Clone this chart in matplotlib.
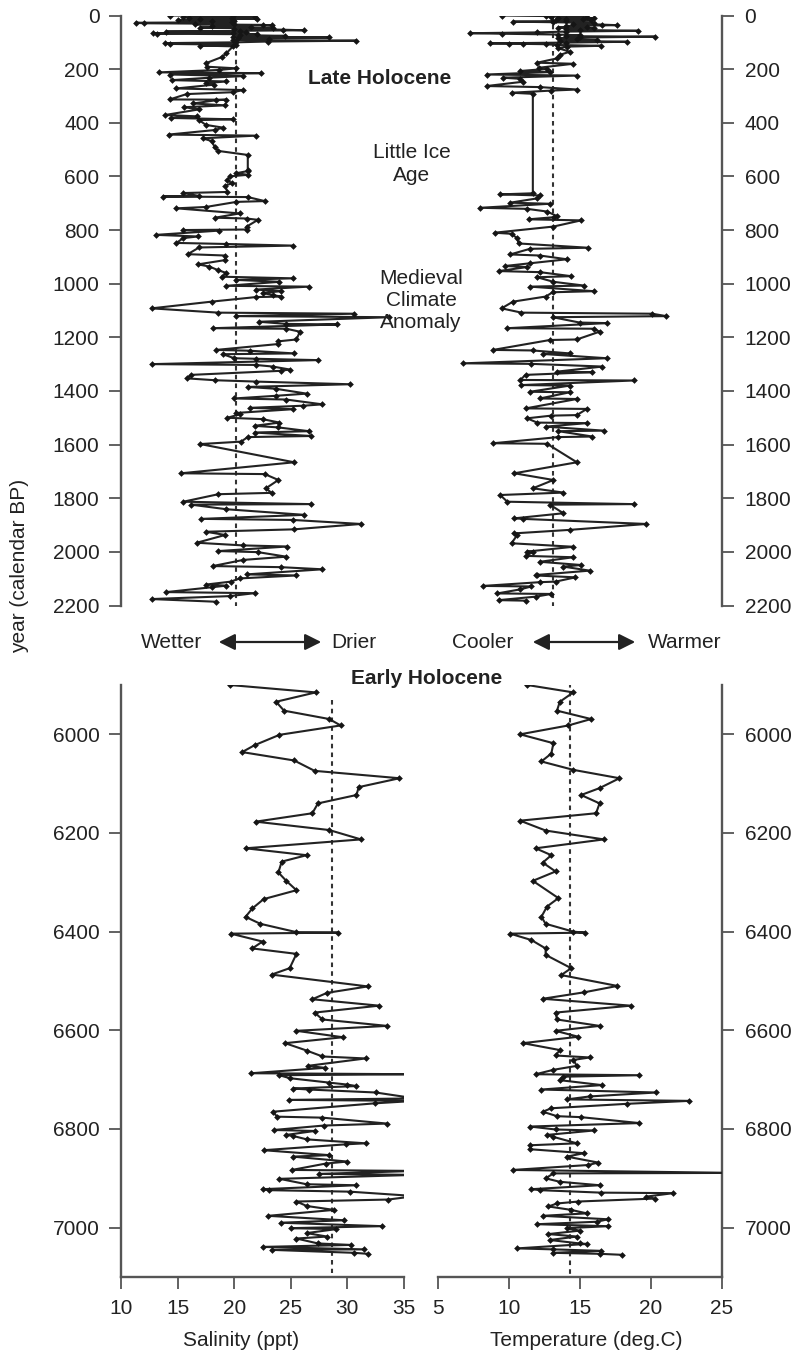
import matplotlib
matplotlib.use("Agg")
import matplotlib.pyplot as plt
from matplotlib.patches import FancyArrowPatch

plt.rcParams['font.family'] = ['Liberation Sans', 'DejaVu Sans']

# ---------------- data ----------------
late_salinity = [(0,14.3),(2,19.9),(4,21.8),(6,15.5),(8,19.8),(10,16.0),(12,22.0),(14,17.0),(16,19.9),(18,15.0),(20,20.0),(22,18.0),(25,19.8),(27,11.3),(29,12.0),(31,20.0),(33,16.5),(35,22.5),(37,23.3),(40,18.0),(42,21.5),(45,17.0),(48,23.4),(50,20.0),(53,24.3),(55,26.2),(57,20.5),(60,14.0),(62,21.0),(64,19.9),(66,12.8),(68,13.2),(70,22.0),(73,20.5),(76,24.5),(79,19.9),(82,28.4),(85,20.3),(88,23.1),(91,19.9),(94,30.8),(97,23.0),(100,20.2),(103,13.9),(106,14.3),(109,20.2),(112,17.0),(115,19.9),
    (141,19.3),(155,18.9),(178,17.5),(191,17.6),(197,20.2),(203,18.7),(212,13.4),(215,22.4),(220,14.3),(226,20.8),(232,17.8),(241,14.5),(246,19.3),(252,17.5),(258,18.2),(272,14.9),(278,20.8),(286,19.9),(293,15.8),(313,14.3),(314,19.3),(316,18.4),(328,16.4),(335,19.2),(342,15.6),(350,16.9),(371,13.9),(376,16.7),(382,14.4),(387,19.9),(390,16.9),(408,17.5),(418,19.0),(427,18.3),(444,14.2),(448,21.9),(458,17.2),(468,18.0),(492,18.3),(505,18.6),(520,21.2),(576,21.2),(580,21.2),(588,20.2),(594,21.2),(600,19.6),(615,19.4),(625,19.8),(635,19.2),(658,19.4),(662,15.5),(673,16.9),(675,13.7),(677,21.2),(692,22.7),(695,20.2),(714,17.5),(719,14.9),(738,20.5),(754,18.3),(757,21.1),(762,22.1),(787,21.1),(798,21.1),(800,15.5),(802,18.7),(818,13.1),(824,16.8),(830,15.5),(848,14.9),(852,19.3),(858,25.2),(865,16.9),(890,15.9),(895,19.2),(912,19.2),(928,16.8),(936,17.8),(950,18.6),(960,19.3),(974,18.9),(980,25.2),(986,20.2),(993,24.0),(1008,19.3),(1011,26.6),(1022,21.9),(1028,24.1),(1035,22.5),(1042,23.4),(1048,24.1),(1050,21.9),(1067,18.0),
    (1092,12.7),(1108,18.6),(1112,30.6),(1121,20.2),(1125,33.7),(1142,22.2),(1150,24.6),(1152,29.1),(1166,18.1),(1168,24.6),(1179,25.8),(1208,25.5),(1215,23.9),(1225,23.9),(1247,18.4),(1250,21.4),(1260,25.3),(1263,19.0),(1278,20.0),(1280,21.9),(1285,27.4),(1300,12.7),(1303,21.9),(1309,23.4),(1320,24.9),(1325,24.1),(1340,16.2),(1353,15.8),(1360,18.3),(1365,21.9),(1375,30.2),(1385,21.2),(1392,23.7),(1410,26.4),(1418,23.7),(1428,20.0),(1432,24.6),(1450,27.8),(1455,26.1),(1463,21.4),(1468,25.2),(1482,20.2),(1487,20.5),(1500,19.4),(1505,22.5),(1518,24.0),(1530,21.8),(1536,23.9),(1550,26.6),(1555,21.8),(1568,26.8),(1572,21.2),(1589,20.6),(1598,17.0),(1666,25.3),(1707,15.3),(1710,22.7),(1732,23.9),(1763,22.8),(1780,23.3),(1785,18.6),(1813,15.5),(1822,26.8),(1824,16.2),(1841,19.3),(1862,26.2),(1877,17.1),(1881,25.2),(1896,31.2),(1916,25.3),(1925,17.5),(1937,19.2),(1966,16.7),(1976,20.8),(1980,24.7),(1997,18.6),(2001,22.1),(2018,24.6),(2030,20.8),(2053,18.1),(2057,24.1),(2065,27.8),(2084,21.1),(2088,25.5),(2099,20.5),(2111,19.7),(2122,17.5),(2126,19.3),(2132,18.0),(2150,14.0),(2154,21.8),(2165,19.6),(2176,12.7),(2186,18.4)]

late_temperature = [(0,9.5),(2,12.6),(4,13.0),(6,15.5),(8,13.5),(10,16.0),(12,14.0),(14,15.2),(16,13.3),(18,15.8),(20,14.0),(23,10.3),(25,13.1),(28,16.0),(31,14.5),(34,16.55),(36,17.6),(39,14.0),(42,15.5),(45,13.5),(48,16.0),(51,14.0),(54,15.0),(57,19.1),(60,14.0),(63,12.0),(66,7.3),(68,9.5),(71,13.5),(74,15.0),(77,14.0),(79,20.3),(82,15.0),(85,13.5),(89,14.8),(91,16.2),(94,13.6),(98,18.3),(101,14.0),(104,8.7),(105,10.0),(106,11.0),(107,12.6),(110,13.4),(113,16.5),(116,14.1),(122,13.5),(135,14.3),(147,13.6),(160,13.4),(176,12.0),(180,14.55),(195,12.1),(199,12.7),(207,10.8),(211,12.9),(220,8.45),(224,14.8),(232,9.6),(236,10.8),(247,11.0),(263,8.45),(267,12.2),(276,14.8),(280,13.0),(288,10.2),(292,11.7),
    (663,11.7),(667,9.4),(671,12.2),(682,12.0),(698,10.1),(702,12.9),(717,8.0),(721,11.3),(731,12.7),(748,13.4),(752,13.2),(760,11.4),(764,15.1),(787,13.15),(810,9.0),(814,10.2),(831,10.6),(850,10.7),(866,15.6),(870,11.5),(891,10.1),(895,12.2),(909,14.1),(924,11.5),(934,9.75),(938,11.3),(953,9.3),(957,12.2),(972,14.4),(976,12.0),(993,13.15),(1007,15.3),(1011,11.5),(1028,16.0),(1032,13.1),(1048,12.6),(1067,10.3),(1092,9.5),(1108,10.9),(1112,20.1),(1121,21.1),(1125,13.1),(1145,15.0),(1147,16.9),(1166,9.9),(1168,16.0),(1179,16.4),(1208,14.8),(1210,12.9),(1247,8.9),(1249,11.7),(1260,14.3),(1262,12.4),(1278,16.9),(1297,6.8),(1299,11.6),(1309,16.6),(1328,13.4),(1330,15.9),(1340,11.2),(1359,10.8),(1361,18.8),(1378,10.9),(1380,14.3),(1403,11.5),(1405,14.3),(1428,12.2),(1430,14.8),(1465,11.2),(1467,15.5),(1490,14.8),(1492,13.0),(1502,11.3),(1518,12.0),(1520,15.5),(1533,12.6),(1548,16.7),(1550,13.5),(1570,15.9),(1572,13.5),(1595,8.9),(1597,12.7),(1666,14.8),(1707,10.4),(1732,13.15),(1763,11.7),(1779,13.85),(1788,9.4),(1813,9.9),(1822,18.8),(1824,12.9),(1856,13.85),(1875,10.4),(1877,11.0),(1896,19.7),(1918,14.3),(1931,10.4),(1937,10.6),(1968,10.2),(1981,14.55),(1999,11.3),(2001,11.7),(2015,11.2),(2020,14.55),(2037,12.2),(2049,15.1),(2055,13.85),(2070,15.7),(2086,12.0),(2088,11.9),(2095,14.7),(2111,13.3),(2113,12.2),(2127,8.2),(2129,11.6),(2140,10.8),(2155,9.2),(2157,13.0),(2167,11.9),(2180,9.3),(2182,11.2)]

early_salinity = [(5900,19.6),(5915,27.2),(5934,23.7),(5952,24.4),(5969,28.4),(5982,29.4),(6001,24.0),(6022,21.8),(6036,20.7),(6053,25.3),(6074,27.1),(6089,34.6),(6107,31.0),(6123,30.8),(6140,27.4),(6160,26.9),(6177,21.9),(6194,28.4),(6213,31.2),(6231,21.0),(6245,26.4),(6258,24.2),(6280,23.9),(6297,24.6),(6316,25.5),(6334,22.6),(6353,21.6),(6370,21.0),(6384,22.3),(6401,25.5),(6402,29.2),(6404,19.7),(6420,22.5),(6434,21.6),(6445,25.5),(6474,24.9),(6487,23.3),(6511,31.8),(6524,28.2),(6537,26.9),(6550,32.8),(6564,27.1),(6578,27.8),(6591,33.5),(6601,25.5),(6614,29.6),(6626,24.5),(6641,26.4),(6653,27.8),(6657,31.6),(6672,26.5),(6676,28.0),(6687,21.5),(6689,36.0),(6691,24.0),(6697,24.9),(6706,28.4),(6710,30.0),(6713,30.8),(6718,25.2),(6720,26.6),(6726,32.5),(6738,36.0),(6741,24.8),(6743,36.0),(6748,32.4),(6765,23.4),(6775,23.8),(6777,27.8),(6789,33.5),(6793,27.9),(6802,23.5),(6804,27.1),(6812,24.6),(6814,25.2),(6821,26.4),(6829,31.6),(6831,29.9),(6843,22.6),(6853,28.4),(6856,25.2),(6866,30.0),(6870,28.1),(6883,25.1),(6885,36.0),(6891,27.5),(6893,36.0),(6901,24.0),(6912,26.4),(6914,30.8),(6922,22.5),(6924,23.1),(6927,30.2),(6936,36.0),(6943,33.6),(6947,25.5),(6956,26.4),(6964,28.8),(6976,23.0),(6985,29.7),(6990,24.1),(6997,33.1),(7001,25.0),(7003,29.0),(7011,26.4),(7018,28.2),(7022,25.5),(7032,27.4),(7035,30.3),(7039,22.5),(7044,31.5),(7045,23.3),(7051,30.6),(7053,31.8)]

early_temperature = [(5900,11.3),(5915,14.55),(5934,13.6),(5952,13.4),(5969,15.8),(5982,14.2),(6000,10.8),(6018,13.15),(6039,13.0),(6055,12.3),(6072,14.55),(6089,17.8),(6109,16.4),(6123,15.1),(6140,16.4),(6160,16.15),(6175,10.8),(6195,12.6),(6213,16.7),(6231,11.9),(6245,13.0),(6260,12.4),(6278,13.3),(6297,11.7),(6332,13.5),(6349,12.7),(6370,12.3),(6384,12.6),(6400,14.55),(6402,15.4),(6404,10.1),(6417,11.6),(6434,12.6),(6447,12.6),(6474,14.4),(6488,13.7),(6510,17.65),(6523,15.3),(6536,12.4),(6550,18.6),(6564,13.3),(6578,13.4),(6591,16.4),(6601,13.3),(6613,14.9),(6626,11.0),(6640,13.6),(6651,13.3),(6655,15.7),(6660,14.55),(6672,14.8),(6680,13.15),(6689,11.9),(6691,19.2),(6694,13.8),(6701,13.6),(6711,16.55),(6720,12.3),(6726,20.4),(6734,15.7),(6740,14.1),(6743,22.7),(6749,18.3),(6758,13.0),(6765,12.4),(6774,13.4),(6776,15.1),(6788,19.2),(6795,11.5),(6801,13.3),(6803,16.0),(6812,12.7),(6816,13.15),(6829,14.8),(6833,11.5),(6841,11.5),(6849,15.3),(6856,14.1),(6868,16.3),(6873,15.6),(6883,10.3),(6889,26.0),(6890,13.15),(6900,12.6),(6907,13.6),(6914,16.4),(6922,11.6),(6924,12.2),(6929,16.5),(6930,21.6),(6937,19.7),(6941,20.3),(6947,14.9),(6951,13.4),(6957,12.8),(6964,14.4),(6971,15.5),(6976,12.4),(6983,17.0),(6988,16.2),(6993,12.0),(6997,17.0),(7001,14.1),(7006,15.0),(7013,12.8),(7018,14.8),(7025,12.9),(7032,15.0),(7033,15.5),(7042,10.6),(7044,13.15),(7047,16.5),(7051,13.1),(7053,16.4),(7055,17.95)]

# mean (dashed reference) values and their depth extents
late_sal_mean = 20.15
late_temp_mean = 13.1
early_sal_mean = 28.6
early_temp_mean = 14.3
early_sal_mean_span = (5930, 7092)
early_temp_mean_span = (5896, 7096)

late_yticks = list(range(0, 2201, 200))
early_yticks = list(range(6000, 7001, 200))
sal_xticks = [10, 15, 20, 25, 30, 35]
temp_xticks = [5, 10, 15, 20, 25]

# ---------------- layout ----------------
W, H = 795, 1351
fig = plt.figure(figsize=(W / 100, H / 100), dpi=100)
TXT = '#222222'
SP = '#555555'
LINE = '#222222'
FS = 15


def rect(x0, x1, y0, y1):
    return [x0 / W, 1 - y1 / H, (x1 - x0) / W, (y1 - y0) / H]


def fxy(px, py):
    return (px / W, 1 - py / H)


SX0, SX1 = 121, 404
TX0, TX1 = 437.7, 721.7
ax_ls = fig.add_axes(rect(SX0, SX1, 15.5, 605.5))
ax_lt = fig.add_axes(rect(TX0, TX1, 15.5, 605.5))
ax_es = fig.add_axes(rect(SX0, SX1, 685, 1277))
ax_et = fig.add_axes(rect(TX0, TX1, 685, 1277))

for ax in (ax_ls, ax_lt, ax_es, ax_et):
    ax.patch.set_visible(False)
    for s in ax.spines.values():
        s.set_visible(False)
        s.set_color(SP)
        s.set_linewidth(1.7)
    ax.tick_params(length=8.5, width=1.3, color=SP, labelsize=FS,
                   labelcolor=TXT, pad=7)

# late salinity
ax_ls.set_xlim(10, 35)
ax_ls.set_ylim(2200, 0)
ax_ls.spines['left'].set_visible(True)
ax_ls.set_yticks(late_yticks)
ax_ls.set_xticks([])
# late temperature
ax_lt.set_xlim(5, 25)
ax_lt.set_ylim(2200, 0)
ax_lt.spines['right'].set_visible(True)
ax_lt.yaxis.tick_right()
ax_lt.set_yticks(late_yticks)
ax_lt.tick_params(axis='y', pad=8)
ax_lt.set_xticks([])
# early salinity
ax_es.set_xlim(10, 35)
ax_es.set_ylim(7100, 5900)
ax_es.spines['left'].set_visible(True)
ax_es.spines['bottom'].set_visible(True)
ax_es.set_yticks(early_yticks)
ax_es.set_xticks(sal_xticks)
# early temperature
ax_et.set_xlim(5, 25)
ax_et.set_ylim(7100, 5900)
ax_et.spines['right'].set_visible(True)
ax_et.spines['bottom'].set_visible(True)
ax_et.yaxis.tick_right()
ax_et.set_yticks(early_yticks)
ax_et.tick_params(axis='y', pad=8)
ax_et.set_xticks(temp_xticks)


def profile(ax, data):
    yrs = [d[0] for d in data]
    vals = [d[1] for d in data]
    ax.plot(vals, yrs, color=LINE, lw=1.5, marker='D', ms=3.4, mew=0,
            mfc='#151515', zorder=3)


profile(ax_ls, late_salinity)
profile(ax_lt, late_temperature)
profile(ax_es, early_salinity)
profile(ax_et, early_temperature)

dash = dict(color='#333333', lw=1.5, ls=(0, (2.2, 2.0)), zorder=2)
ax_ls.plot([late_sal_mean, late_sal_mean], [0, 2200], **dash)
ax_lt.plot([late_temp_mean, late_temp_mean], [0, 2200], **dash)
ax_es.plot([early_sal_mean, early_sal_mean], list(early_sal_mean_span), **dash)
ax_et.plot([early_temp_mean, early_temp_mean], list(early_temp_mean_span), **dash)

# ---------------- texts ----------------
fig.text(*fxy(380, 79), 'Late Holocene', fontsize=FS, fontweight='bold',
         color=TXT, ha='center', va='center')
fig.text(*fxy(412, 164), 'Little Ice\nAge', fontsize=FS, color=TXT,
         ha='center', va='center', multialignment='center', linespacing=1.3)
fig.text(*fxy(421, 301), 'Medieval\nClimate\nAnomaly', fontsize=FS, color=TXT,
         ha='center', va='center', multialignment='center', linespacing=1.2)
fig.text(*fxy(427, 678), 'Early Holocene', fontsize=FS, fontweight='bold',
         color=TXT, ha='center', va='center')

fig.text(*fxy(172, 642), 'Wetter', fontsize=FS, color=TXT, ha='center', va='center')
fig.text(*fxy(353.5, 642), 'Drier', fontsize=FS, color=TXT, ha='center', va='center')
fig.text(*fxy(483, 642), 'Cooler', fontsize=FS, color=TXT, ha='center', va='center')
fig.text(*fxy(684.5, 642), 'Warmer', fontsize=FS, color=TXT, ha='center', va='center')

for (a, b) in [((216, 642), (324, 642)), ((530, 642), (638, 642))]:
    fig.add_artist(FancyArrowPatch(fxy(*a), fxy(*b), transform=fig.transFigure,
                                   arrowstyle='<|-|>,head_length=0.7,head_width=0.35',
                                   mutation_scale=14, lw=1.6, color='#222222'))

fig.text(*fxy(20, 566), 'year (calendar BP)', fontsize=FS, color=TXT,
         rotation=90, ha='center', va='center')
fig.text(*fxy(241, 1340), 'Salinity (ppt)', fontsize=FS, color=TXT,
         ha='center', va='center')
fig.text(*fxy(586, 1340), 'Temperature (deg.C)', fontsize=FS, color=TXT,
         ha='center', va='center')

fig.savefig('out.png', dpi=100, facecolor='white')
